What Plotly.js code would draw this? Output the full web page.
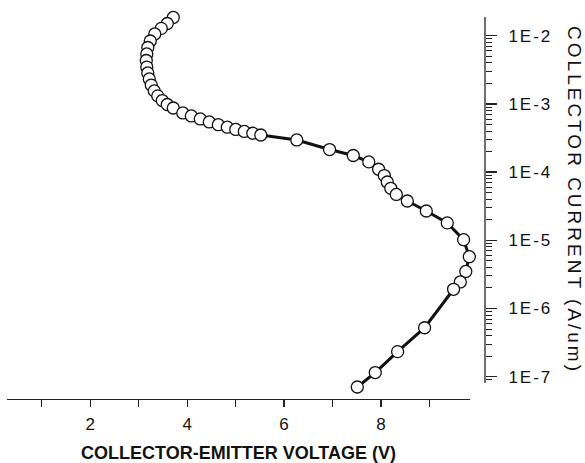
<!DOCTYPE html>
<html><head><meta charset="utf-8">
<script src="https://cdn.plot.ly/plotly-3.0.1.min.js"></script>
<style>
html,body{margin:0;padding:0;background:#fff;}
#chart{width:585px;height:463px;}
.ytick text{letter-spacing:2px;}
.annotation-text{letter-spacing:3px;}
</style></head><body><div id="chart"></div>
<script>
const voltage = [3.713,3.589,3.465,3.331,3.238,3.187,3.166,3.156,3.166,3.187,3.218,3.259,3.321,3.393,3.486,3.589,3.713,
  3.909,4.085,4.270,4.456,4.642,4.828,5.003,5.179,5.354,5.519,
  6.262,6.939,7.428,7.748,7.950,8.068,8.130,8.202,8.316,8.543,8.935,9.368,9.705,9.823,9.750,9.637,9.498,
  8.900,8.343,7.882,7.511];
const current = [1.85e-2,1.51e-2,1.28e-2,1.06e-2,8.36e-3,6.71e-3,5.40e-3,4.33e-3,3.47e-3,2.84e-3,2.32e-3,1.89e-3,1.55e-3,1.31e-3,1.12e-3,9.8e-4,8.7e-4,
  7.36e-4,6.65e-4,6.01e-4,5.43e-4,4.95e-4,4.55e-4,4.22e-4,3.94e-4,3.71e-4,3.50e-4,
  2.96e-4,2.14e-4,1.75e-4,1.41e-4,1.10e-4,8.9e-5,7.16e-5,5.78e-5,4.70e-5,3.77e-5,2.69e-5,1.80e-5,1.02e-5,5.75e-6,3.49e-6,2.45e-6,1.91e-6,
  5.22e-7,2.33e-7,1.15e-7,7.06e-8];
const xTickVals = [2,4,6,8];
const xTickText = ['2','4','6','8'];
const xMinorVals = [1,3,5,7,9];
const yTickVals = [1e-7,1e-6,1e-5,1e-4,1e-3,1e-2];
const yTickText = ['1E-7','1E-6','1E-5','1E-4','1E-3','1E-2'];
const xTitle = 'COLLECTOR-EMITTER VOLTAGE (V)';
const yTitle = 'COLLECTOR CURRENT (A/um)';

const font = 'Liberation Sans, Arial, Helvetica, sans-serif';
const axisColor = '#222';

// visible extent of the y axis line (log10 units) and data range
const yLineLo = -7.092, yLineHi = -1.726;
const yRangeLo = -7.2;

// minor ticks: digits 2..9 of every decade inside the visible axis line, plus 9E-8
const yMinorVals = [9e-8];
for (let d = -7; d <= -2; d++) {
  for (let k = 2; k <= 9; k++) {
    const v = k * Math.pow(10, d);
    if (Math.log10(v) <= yLineHi) yMinorVals.push(v);
  }
}

// plot area in pixels
const W = 585, H = 463, mL = 7, mR = 100, mT = 17, mB = 64;
const plotH = H - mT - mB;
const pxPerDecade = 68.2;
const yDomLo = ((yLineHi - yRangeLo) * pxPerDecade > plotH) ? 0 : 1 - (yLineHi - yRangeLo) * pxPerDecade / plotH;
const yLineDomLo = 1 - (yLineHi - yLineLo) * pxPerDecade / plotH;

const trace = {
  x: voltage, y: current, type: 'scatter', mode: 'lines+markers',
  line: {color: '#111', width: 3},
  marker: {size: 12, color: '#fff', line: {color: '#111', width: 1.3}},
  cliponaxis: false, showlegend: false, hoverinfo: 'none'
};

const layout = {
  width: W, height: H,
  margin: {l: mL, r: mR, t: mT, b: mB, pad: 0},
  paper_bgcolor: '#fff', plot_bgcolor: 'rgba(0,0,0,0)',
  font: {family: font, color: '#111'},
  xaxis: {
    domain: [0, 0.9686], anchor: 'free', position: 0,
    range: [0.281, 9.837],
    tickvals: xTickVals, ticktext: xTickText,
    ticks: 'outside', ticklen: 7, tickwidth: 1.3, tickcolor: axisColor,
    minor: {tickvals: xMinorVals, ticks: 'outside', ticklen: 7, tickwidth: 1.3, tickcolor: axisColor},
    showline: true, linecolor: axisColor, linewidth: 1.3,
    showgrid: false, zeroline: false,
    tickfont: {size: 17, family: font, color: '#111'},
    ticklabelstandoff: 2,
    title: {text: xTitle, font: {size: 18, family: font, weight: 'bold', color: '#111'}, standoff: 13}
  },
  yaxis: {
    type: 'log', domain: [yDomLo, 1], anchor: 'free', position: 1, side: 'right',
    range: [yRangeLo, yLineHi],
    tickvals: yTickVals, ticktext: yTickText,
    ticks: 'outside', ticklen: 11, tickwidth: 1.3, tickcolor: axisColor,
    minor: {tickvals: yMinorVals, ticks: 'outside', ticklen: 6, tickwidth: 1, tickcolor: axisColor},
    showline: false,
    showgrid: false, zeroline: false,
    tickfont: {size: 17, family: font, color: '#111'},
    ticklabelstandoff: 8
  },
  shapes: [{
    type: 'line', xref: 'paper', yref: 'paper', x0: 1, x1: 1, y0: yLineDomLo, y1: 1,
    line: {color: axisColor, width: 1.3}
  }],
  annotations: [{
    text: yTitle, xref: 'paper', yref: 'paper', x: 1.186, y: 0.5 * (yLineDomLo + 1),
    xanchor: 'center', yanchor: 'middle', textangle: 90, showarrow: false,
    font: {size: 19, family: font, color: '#111'}
  }]
};

Plotly.newPlot('chart', [trace], layout, {staticPlot: true, displayModeBar: false});
</script></body></html>
